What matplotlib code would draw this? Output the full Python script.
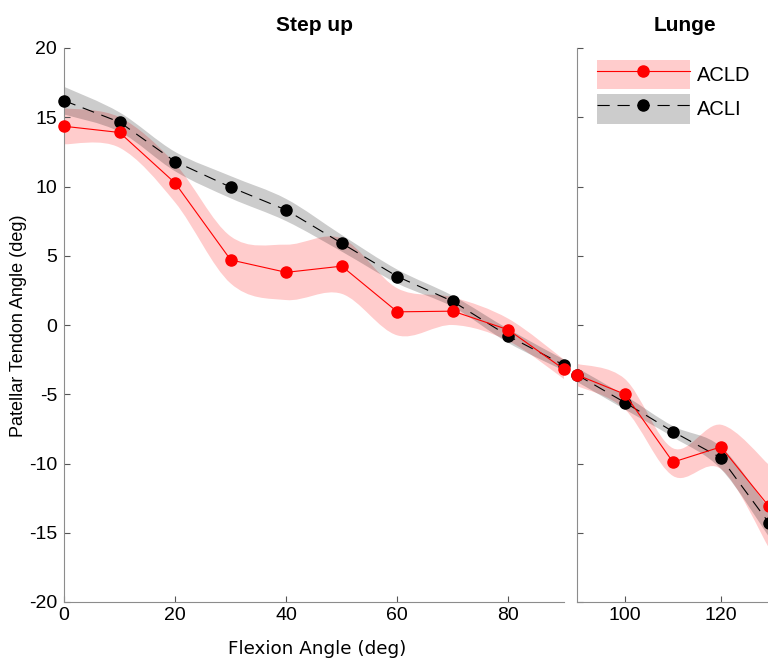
import numpy as np
import matplotlib
matplotlib.use('Agg')
import matplotlib.pyplot as plt
from matplotlib.patches import Patch, PathPatch
from matplotlib.lines import Line2D
from matplotlib.path import Path

# Step up
step_x = [0, 10, 20, 30, 40, 50, 60, 70, 80, 90]
step_acld = [14.35, 13.9, 10.25, 4.7, 3.8, 4.25, 0.95, 1.0, -0.35, -3.2]
step_acld_sd = [1.3, 1.1, 1.4, 1.7, 2.0, 2.0, 1.7, 1.0, 0.8, 0.7]
step_acli = [16.2, 14.65, 11.8, 9.95, 8.3, 5.9, 3.5, 1.7, -0.8, -2.9]
step_acli_sd = [1.0, 0.7, 0.7, 0.8, 0.8, 0.6, 0.5, 0.4, 0.5, 0.4]

# Lunge
lunge_x = [90, 100, 110, 120, 130]
lunge_acld = [-3.6, -5.0, -9.9, -8.8, -13.1]
lunge_acld_sd = [0.8, 1.1, 1.0, 1.6, 3.0]
lunge_acli = [-3.6, -5.6, -7.7, -9.6, -14.3]
lunge_acli_sd = [0.5, 0.5, 0.4, 0.8, 1.0]

plt.rcParams['font.family'] = ['Liberation Sans', 'DejaVu Sans']
plt.rcParams['axes.unicode_minus'] = False

fig = plt.figure(figsize=(7.68, 6.6), dpi=100)
ax1 = fig.add_axes([64/768, 58/660, 500/768, 554/660])
ax2 = fig.add_axes([577/768, 58/660, 216/768, 554/660])

red = (1, 0, 0)
dash = (0, (11, 7))


def curve(x, y):
    # smooth bezier path through the points for the shaded bands
    p = np.column_stack([x, y]).astype(float)
    ext = np.vstack([p[0], p, p[-1]])
    verts = [p[0]]
    for i in range(len(p) - 1):
        c1 = ext[i + 1] + (ext[i + 2] - ext[i]) / 6
        c2 = ext[i + 2] - (ext[i + 3] - ext[i + 1]) / 6
        verts += [c1, c2, ext[i + 2]]
    codes = [Path.MOVETO] + [Path.CURVE4] * (len(verts) - 1)
    return verts, codes


def band(ax, x, y, sd, color):
    y = np.array(y); sd = np.array(sd)
    v1, c1 = curve(x, y + sd)
    v2, c2 = curve(x[::-1], (y - sd)[::-1])
    c2 = [Path.LINETO] + c2[1:]
    verts = v1 + v2 + [v1[0]]
    codes = c1 + c2 + [Path.CLOSEPOLY]
    ax.add_patch(PathPatch(Path(verts, codes), facecolor=color, alpha=0.2,
                           lw=0))


def draw(ax, x, acld, acld_sd, acli, acli_sd):
    band(ax, x, acld, acld_sd, red)
    band(ax, x, acli, acli_sd, 'k')
    ax.plot(x, acli, color='k', lw=0.8, linestyle=dash, marker='o', ms=8,
            clip_on=False, zorder=3)
    ax.plot(x, acld, color=red, lw=0.8, marker='o', ms=8,
            clip_on=False, zorder=4)


draw(ax1, step_x, step_acld, step_acld_sd, step_acli, step_acli_sd)
draw(ax2, lunge_x, lunge_acld, lunge_acld_sd, lunge_acli, lunge_acli_sd)

for ax in (ax1, ax2):
    ax.set_ylim(-20, 20)
    ax.set_yticks(np.arange(-20, 21, 5))
    for s in ('top', 'right'):
        ax.spines[s].set_visible(False)
    for s in ('left', 'bottom'):
        ax.spines[s].set_color('#8c8c8c')
        ax.spines[s].set_linewidth(0.8)
    ax.tick_params(direction='in', length=4, color='#555555', labelsize=14,
                   width=0.8)
    ax.tick_params(axis='y', pad=5)

ax1.set_xlim(0, 90)
ax1.set_xticks([0, 20, 40, 60, 80])
ax2.set_xlim(90, 135)
ax2.set_xticks([100, 120])
ax2.set_yticklabels([])

ax1.set_title('Step up', fontsize=15, fontweight='bold', pad=12.5)
ax2.set_title('Lunge', fontsize=15, fontweight='bold', pad=12.5)
fig.text(19/768, 1 - 326/660, 'Patellar Tendon Angle (deg)', fontsize=13,
         rotation=90, ha='center', va='center')
fig.text(317/768, 1 - 649/660, 'Flexion Angle (deg)', fontsize=13.2,
         family='DejaVu Sans', ha='center', va='center')

h_acld = (Patch(facecolor=red, alpha=0.2, lw=0),
          Line2D([], [], color=red, lw=0.8, marker='o', ms=8))
h_acli = (Patch(facecolor='k', alpha=0.2, lw=0),
          Line2D([], [], color='k', lw=0.8, linestyle=dash, marker='o', ms=8))
ax2.legend([h_acld, h_acli], ['ACLD', 'ACLI'], loc='upper left',
           bbox_to_anchor=(0.093, 0.978), frameon=False, fontsize=14.5,
           handlelength=4.6, handleheight=1.85, labelspacing=0.25,
           handletextpad=0.35, borderaxespad=0, borderpad=0)

fig.savefig('out.png', dpi=100)
